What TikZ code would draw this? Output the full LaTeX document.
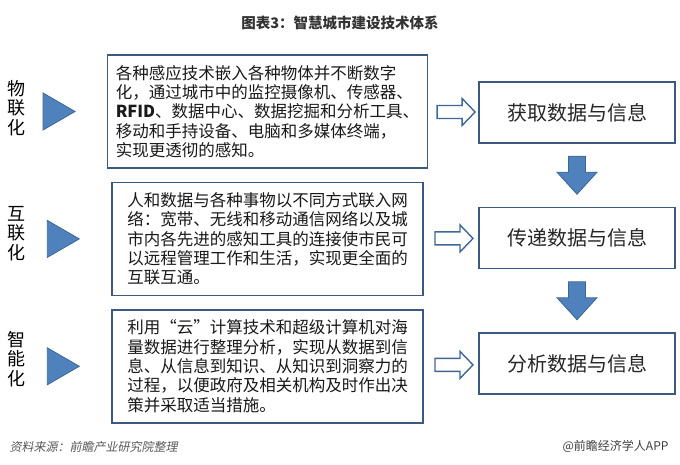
\documentclass[tikz,border=0pt]{standalone}
\usepackage{fontspec}
\setmainfont{Noto Sans CJK SC}
\newfontfamily\slantfont[FakeSlant=0.2]{Noto Sans CJK SC}
\usepackage{tikz}
\usetikzlibrary{positioning}
\usetikzlibrary{calc}
\definecolor{boxline}{HTML}{3C5A80}
\definecolor{arrowblue}{HTML}{4F81BD}
\definecolor{arrowline}{HTML}{3F6796}
\tikzset{descbox/.style = {draw = boxline, line width = 1.4pt, minimum width = 311pt,
    minimum height = 113pt, inner xsep = 8pt, align = left, text = black!90,
    font = \fontsize{16.5}{19.3}\selectfont}}
\tikzset{resbox/.style = {draw = boxline, line width = 1.4pt, minimum width = 196pt,
    minimum height = 61pt, text = black!85, font = \fontsize{20}{24}\selectfont}}
\tikzset{sidelabel/.style = {align = center, font = \fontsize{18}{19.5}\selectfont}}
\tikzset{bluearrow/.style = {fill = arrowblue, draw = arrowline, line width = 0.8pt}}
\tikzset{hollowarrow/.style = {fill = white, draw = arrowline, line width = 1.4pt, line join = miter}}

\begin{document}
\begin{tikzpicture}[x = 1pt, y = -1pt]
      \useasboundingbox (0, 0) rectangle (680, 465);
      \fill [white] (0, 0) rectangle (680, 465);
      % title and sources
      \node [font = \fontsize{14.5}{16}\selectfont\bfseries, text = black!80] (title) at (340, 23)
        {图表3：智慧城市建设技术体系};
      \node [anchor = west, font = \fontsize{12}{14}\slantfont, text = black!65] (source) at (6, 447)
        {资料来源：前瞻产业研究院整理};
      \node [anchor = east, font = \fontsize{12}{14}\selectfont, text = black!75] (brand) at (672, 446)
        {@前瞻经济学人APP};
      % three rows
      \node [descbox] (desc1) at (267.5, 111.5) {各种感应技术嵌入各种物体并不断数字\\
        化，通过城市中的监控摄像机、传感器、\\
        {\bfseries RFID}、数据中心、数据挖掘和分析工具、\\
        移动和手持设备、电脑和多媒体终端，\\
        实现更透彻的感知。};
      \node [descbox, below = 13pt of desc1] (desc2) {人和数据与各种事物以不同方式联入网\\
        络：宽带、无线和移动通信网络以及城\\
        市内各先进的感知工具的连接使市民可\\
        以远程管理工作和生活，实现更全面的\\
        互联互通。};
      \node [descbox, below = 13pt of desc2] (desc3) {利用“云”计算技术和超级计算机对海\\
        量数据进行整理分析，实现从数据到信\\
        息、从信息到知识、从知识到洞察力的\\
        过程，以便政府及相关机构及时作出决\\
        策并采取适当措施。};
      \node [resbox] (res1) at (577, 112.5) {获取数据与信息};
      \node [resbox] (res2) at (577, 238) {传递数据与信息};
      \node [resbox] (res3) at (577, 363.5) {分析数据与信息};
      \node [sidelabel] (wu) at (17, 108) {物\\联\\化};
      \node [sidelabel] (hu) at (17, 233.5) {互\\联\\化};
      \node [sidelabel] (zhi) at (17, 359) {智\\能\\化};
      \foreach \row in {1, 2, 3} {
        \draw [bluearrow] ($(desc\row.west) + (-64, -18.5)$) -- ++(32, 18.5) -- ++(-32, 18.5) -- cycle;
        \draw [hollowarrow] ($(desc\row.east)!0.5!(res\row.west) + (-16, -6.5)$) -- ++(25, 0)
          -- ++(0, -7) -- ++(13, 13.5) -- ++(-13, 13.5) -- ++(0, -7) -- ++(-25, 0) -- cycle;
      }
      \foreach \a/\b in {1/2, 2/3} {
        \draw [bluearrow] ($(res\a.south)!0.5!(res\b.north) + (-8.5, -19)$) -- ++(17, 0)
          -- ++(0, 16) -- ++(11.5, 0) -- ++(-20, 22) -- ++(-20, -22) -- ++(11.5, 0) -- cycle;
      }
    \end{tikzpicture}
\end{document}
